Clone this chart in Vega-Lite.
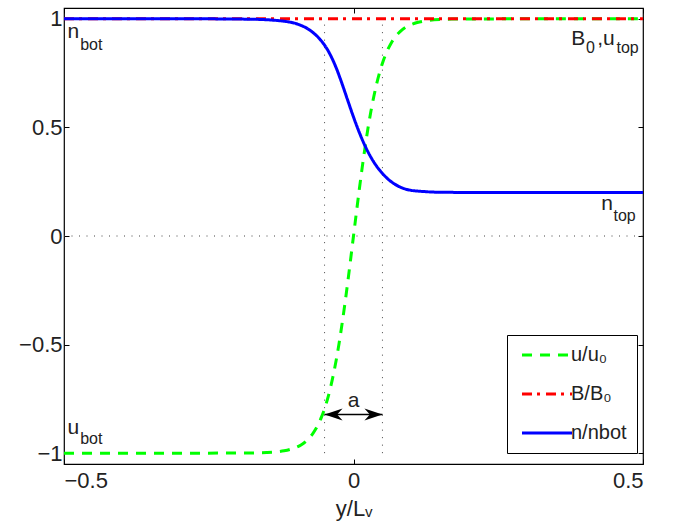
{
  "$schema": "https://vega.github.io/schema/vega-lite/v6.json",
  "width": 579,
  "height": 456,
  "autosize": {"type": "none"},
  "padding": {"left": 64, "top": 8, "right": 32, "bottom": 59},
  "config": {
    "font": "Liberation Sans",
    "view": {"stroke": "black", "strokeWidth": 1.2},
    "axis": {
      "grid": false, "domain": false, "ticks": true, "tickColor": "black", "tickSize": -5, "tickWidth": 1,
      "labelFontSize": 22, "labelColor": "#222", "labelFont": "Liberation Sans",
      "titleFont": "Liberation Sans", "titleFontSize": 22, "titleFontWeight": "normal", "titleColor": "#222"
    }
  },
  "datasets": {
    "refs": [
      {"x1": -0.5, "x2": 0.5, "y1": 0, "y2": 0},
      {"x1": -0.05, "x2": -0.05, "y1": -1, "y2": 1},
      {"x1": 0.05, "x2": 0.05, "y1": -1, "y2": 1}
    ],
    "curves": [
      {"s": "u/u₀", "x": -0.5, "v": -1}, {"s": "u/u₀", "x": -0.3, "v": -1}, {"s": "u/u₀", "x": -0.2, "v": -0.9997},
      {"s": "u/u₀", "x": -0.17, "v": -0.9988}, {"s": "u/u₀", "x": -0.15, "v": -0.9971}, {"s": "u/u₀", "x": -0.13, "v": -0.993},
      {"s": "u/u₀", "x": -0.12, "v": -0.989}, {"s": "u/u₀", "x": -0.11, "v": -0.983}, {"s": "u/u₀", "x": -0.1, "v": -0.974},
      {"s": "u/u₀", "x": -0.09, "v": -0.961}, {"s": "u/u₀", "x": -0.08, "v": -0.94}, {"s": "u/u₀", "x": -0.07, "v": -0.909},
      {"s": "u/u₀", "x": -0.065, "v": -0.888}, {"s": "u/u₀", "x": -0.06, "v": -0.863}, {"s": "u/u₀", "x": -0.055, "v": -0.832},
      {"s": "u/u₀", "x": -0.05, "v": -0.796}, {"s": "u/u₀", "x": -0.045, "v": -0.752}, {"s": "u/u₀", "x": -0.04, "v": -0.701},
      {"s": "u/u₀", "x": -0.035, "v": -0.641}, {"s": "u/u₀", "x": -0.03, "v": -0.573}, {"s": "u/u₀", "x": -0.025, "v": -0.496},
      {"s": "u/u₀", "x": -0.02, "v": -0.409}, {"s": "u/u₀", "x": -0.015, "v": -0.315}, {"s": "u/u₀", "x": -0.01, "v": -0.214},
      {"s": "u/u₀", "x": -0.005, "v": -0.108}, {"s": "u/u₀", "x": 0, "v": 0}, {"s": "u/u₀", "x": 0.005, "v": 0.108},
      {"s": "u/u₀", "x": 0.01, "v": 0.214}, {"s": "u/u₀", "x": 0.015, "v": 0.315}, {"s": "u/u₀", "x": 0.02, "v": 0.409},
      {"s": "u/u₀", "x": 0.025, "v": 0.496}, {"s": "u/u₀", "x": 0.03, "v": 0.573}, {"s": "u/u₀", "x": 0.035, "v": 0.641},
      {"s": "u/u₀", "x": 0.04, "v": 0.701}, {"s": "u/u₀", "x": 0.045, "v": 0.752}, {"s": "u/u₀", "x": 0.05, "v": 0.796},
      {"s": "u/u₀", "x": 0.055, "v": 0.832}, {"s": "u/u₀", "x": 0.06, "v": 0.863}, {"s": "u/u₀", "x": 0.065, "v": 0.888},
      {"s": "u/u₀", "x": 0.07, "v": 0.909}, {"s": "u/u₀", "x": 0.08, "v": 0.94}, {"s": "u/u₀", "x": 0.09, "v": 0.961},
      {"s": "u/u₀", "x": 0.1, "v": 0.974}, {"s": "u/u₀", "x": 0.11, "v": 0.983}, {"s": "u/u₀", "x": 0.12, "v": 0.989},
      {"s": "u/u₀", "x": 0.13, "v": 0.993}, {"s": "u/u₀", "x": 0.15, "v": 0.9971}, {"s": "u/u₀", "x": 0.17, "v": 0.9988},
      {"s": "u/u₀", "x": 0.2, "v": 0.9997}, {"s": "u/u₀", "x": 0.3, "v": 1}, {"s": "u/u₀", "x": 0.5, "v": 1},
      {"s": "B/B₀", "x": -0.5, "v": 1}, {"s": "B/B₀", "x": 0.5, "v": 1},
      {"s": "n/nbot", "x": -0.5, "v": 1}, {"s": "n/nbot", "x": -0.25, "v": 1}, {"s": "n/nbot", "x": -0.2, "v": 0.999},
      {"s": "n/nbot", "x": -0.17, "v": 0.998}, {"s": "n/nbot", "x": -0.15, "v": 0.996}, {"s": "n/nbot", "x": -0.13, "v": 0.992},
      {"s": "n/nbot", "x": -0.11, "v": 0.985}, {"s": "n/nbot", "x": -0.1, "v": 0.979}, {"s": "n/nbot", "x": -0.09, "v": 0.969},
      {"s": "n/nbot", "x": -0.08, "v": 0.956}, {"s": "n/nbot", "x": -0.07, "v": 0.937}, {"s": "n/nbot", "x": -0.06, "v": 0.912},
      {"s": "n/nbot", "x": -0.05, "v": 0.879}, {"s": "n/nbot", "x": -0.04, "v": 0.834}, {"s": "n/nbot", "x": -0.03, "v": 0.775},
      {"s": "n/nbot", "x": -0.02, "v": 0.703}, {"s": "n/nbot", "x": -0.01, "v": 0.625}, {"s": "n/nbot", "x": 0, "v": 0.548},
      {"s": "n/nbot", "x": 0.01, "v": 0.477}, {"s": "n/nbot", "x": 0.02, "v": 0.415}, {"s": "n/nbot", "x": 0.03, "v": 0.363},
      {"s": "n/nbot", "x": 0.04, "v": 0.321}, {"s": "n/nbot", "x": 0.05, "v": 0.288}, {"s": "n/nbot", "x": 0.06, "v": 0.261},
      {"s": "n/nbot", "x": 0.07, "v": 0.241}, {"s": "n/nbot", "x": 0.08, "v": 0.226}, {"s": "n/nbot", "x": 0.09, "v": 0.216},
      {"s": "n/nbot", "x": 0.1, "v": 0.21}, {"s": "n/nbot", "x": 0.11, "v": 0.207}, {"s": "n/nbot", "x": 0.12, "v": 0.205},
      {"s": "n/nbot", "x": 0.14, "v": 0.202}, {"s": "n/nbot", "x": 0.17, "v": 0.201}, {"s": "n/nbot", "x": 0.2, "v": 0.2},
      {"s": "n/nbot", "x": 0.5, "v": 0.2}
    ],
    "arrow": [{"x1": -0.05, "x2": 0.05, "y": -0.822}],
    "heads": [{"x": -0.05, "y": -0.822, "dir": "left"}, {"x": 0.05, "y": -0.822, "dir": "right"}],
    "alabel": [{"x": 0, "y": -0.789, "t": "a"}],
    "ann": [
      {"x": -0.494, "y": 0.911, "t": "n"},
      {"x": 0.376, "y": 0.878, "t": "B"},
      {"x": 0.421, "y": 0.878, "t": ",u"},
      {"x": 0.428, "y": 0.1215, "t": "n"},
      {"x": -0.494, "y": -0.91, "t": "u"}
    ],
    "sub": [
      {"x": -0.472, "y": 0.858, "t": "bot"},
      {"x": 0.4016, "y": 0.843, "t": "0"},
      {"x": 0.4542, "y": 0.843, "t": "top"},
      {"x": 0.449, "y": 0.071, "t": "top"},
      {"x": -0.472, "y": -0.96, "t": "bot"}
    ]
  },
  "layer": [
    {
      "data": {"name": "refs"},
      "mark": {"type": "rule", "strokeDash": [1, 6.5], "color": "#444", "strokeWidth": 1},
      "encoding": {
        "x": {"field": "x1", "type": "quantitative", "scale": {"domain": [-0.5, 0.5], "nice": false, "zero": false},
              "axis": {"orient": "bottom", "values": [-0.5, 0, 0.5], "format": "~g", "title": "y/Lᵥ", "labelPadding": 11, "titlePadding": 7}},
        "x2": {"field": "x2"},
        "y": {"field": "y1", "type": "quantitative", "scale": {"domain": [-1.05, 1.05], "nice": false, "zero": false},
              "axis": {"orient": "left", "values": [-1, -0.5, 0, 0.5, 1], "format": "~g", "title": null, "labelPadding": 7}},
        "y2": {"field": "y2"}
      }
    },
    {
      "data": {"name": "curves"},
      "encoding": {
        "x": {"field": "x", "type": "quantitative", "axis": null},
        "y": {"field": "v", "type": "quantitative", "axis": null},
        "color": {"field": "s", "type": "nominal",
                  "scale": {"domain": ["u/u₀", "B/B₀", "n/nbot"], "range": ["#00ff00", "#ff0000", "#0000ff"]},
                  "legend": {"orient": "none", "legendX": 443, "legendY": 327, "title": null, "padding": 10,
                             "strokeColor": "black", "fillColor": "white", "labelFontSize": 20, "labelFont": "Liberation Sans",
                             "labelColor": "#222", "symbolType": "M-1,0H9", "symbolSize": 100, "symbolStrokeWidth": 3,
                             "rowPadding": 19, "labelOffset": 34, "cornerRadius": 0}},
        "strokeDash": {"field": "s", "type": "nominal",
                       "scale": {"domain": ["u/u₀", "B/B₀", "n/nbot"], "range": [[10, 8], [10, 5, 3, 6], [1, 0]]},
                       "legend": {"orient": "none", "legendX": 443, "legendY": 327, "title": null, "padding": 10,
                             "strokeColor": "black", "fillColor": "white", "labelFontSize": 20, "labelFont": "Liberation Sans",
                             "labelColor": "#222", "symbolType": "M-1,0H9", "symbolSize": 100, "symbolStrokeWidth": 3,
                             "rowPadding": 19, "labelOffset": 34, "cornerRadius": 0}}
      },
      "layer": [
        {"transform": [{"filter": "datum.s === 'u/u₀'"}], "mark": {"type": "line", "strokeWidth": 3, "interpolate": "monotone"}},
        {"transform": [{"filter": "datum.s === 'B/B₀'"}], "mark": {"type": "line", "strokeWidth": 3}},
        {"transform": [{"filter": "datum.s === 'n/nbot'"}], "mark": {"type": "line", "strokeWidth": 3, "interpolate": "monotone"}}
      ]
    },
    {
      "data": {"name": "arrow"},
      "mark": {"type": "rule", "color": "black", "strokeWidth": 1.3},
      "encoding": {
        "x": {"field": "x1", "type": "quantitative", "axis": null},
        "x2": {"field": "x2"},
        "y": {"field": "y", "type": "quantitative", "axis": null}
      }
    },
    {
      "data": {"name": "heads"},
      "mark": {"type": "point", "filled": true, "color": "black", "opacity": 1, "size": 324, "strokeWidth": 0},
      "encoding": {
        "x": {"field": "x", "type": "quantitative", "axis": null},
        "y": {"field": "y", "type": "quantitative", "axis": null},
        "shape": {"field": "dir", "type": "nominal", "legend": null,
                  "scale": {"domain": ["left", "right"], "range": ["M0,0L2,-0.667L1.4,0L2,0.667Z", "M0,0L-2,-0.667L-1.4,0L-2,0.667Z"]}}
      }
    },
    {
      "data": {"name": "alabel"},
      "mark": {"type": "text", "fontSize": 21, "align": "center", "baseline": "alphabetic", "color": "#222"},
      "encoding": {
        "x": {"field": "x", "type": "quantitative",
              "axis": {"orient": "top", "values": [-0.5, 0, 0.5], "labels": false, "title": null}},
        "y": {"field": "y", "type": "quantitative",
              "axis": {"orient": "right", "values": [-1, -0.5, 0, 0.5, 1], "labels": false, "title": null}},
        "text": {"field": "t"}
      }
    },
    {
      "data": {"name": "ann"},
      "mark": {"type": "text", "fontSize": 21, "align": "left", "baseline": "alphabetic", "color": "#222"},
      "encoding": {
        "x": {"field": "x", "type": "quantitative", "axis": null},
        "y": {"field": "y", "type": "quantitative", "axis": null},
        "text": {"field": "t"}
      }
    },
    {
      "data": {"name": "sub"},
      "mark": {"type": "text", "fontSize": 16, "align": "left", "baseline": "alphabetic", "color": "#222"},
      "encoding": {
        "x": {"field": "x", "type": "quantitative", "axis": null},
        "y": {"field": "y", "type": "quantitative", "axis": null},
        "text": {"field": "t"}
      }
    }
  ],
  "resolve": {"axis": {"x": "independent", "y": "independent"}}
}
